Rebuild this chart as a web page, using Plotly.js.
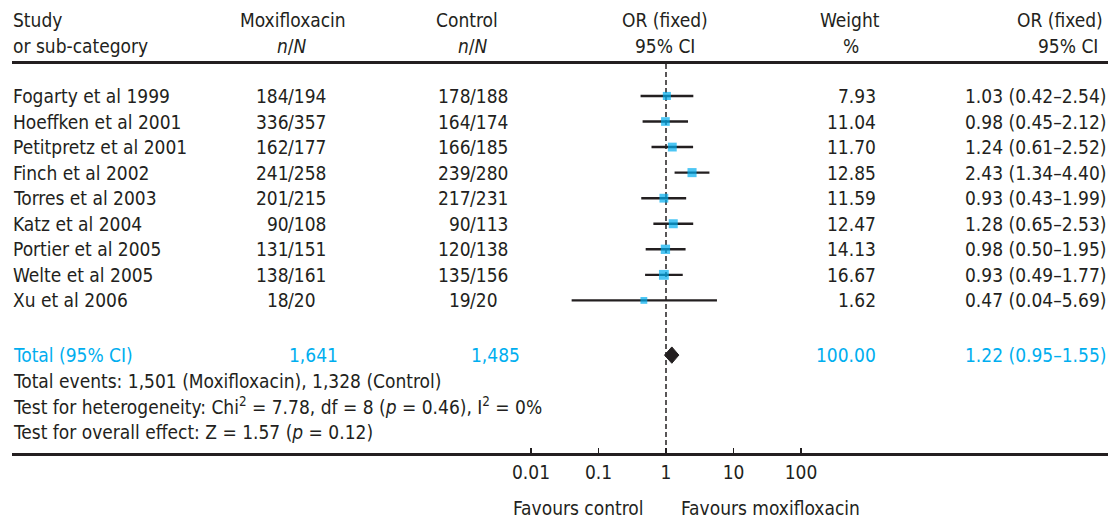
<!DOCTYPE html>
<html>
<head>
<meta charset="utf-8">
<script src="https://cdn.plot.ly/plotly-3.0.1.min.js"></script>
<style>
  html, body { margin: 0; padding: 0; background: #ffffff; }
  #chart { width: 1119px; height: 524px; }
</style>
</head>
<body>
<div id="chart"></div>
<script>
// Moxifloxacin vs control: fixed-effect odds ratios per study
const studies = ["Fogarty et al 1999", "Hoeffken et al 2001", "Petitpretz et al 2001", "Finch et al 2002",
  "Torres et al 2003", "Katz et al 2004", "Portier et al 2005", "Welte et al 2005", "Xu et al 2006"];
const moxiEvents = [184, 336, 162, 241, 201, 90, 131, 138, 18];
const moxiTotal = [194, 357, 177, 258, 215, 108, 151, 161, 20];
const ctrlEvents = [178, 164, 166, 239, 217, 90, 120, 135, 19];
const ctrlTotal = [188, 174, 185, 280, 231, 113, 138, 156, 20];
const weights = [7.93, 11.04, 11.70, 12.85, 11.59, 12.47, 14.13, 16.67, 1.62];
const oddsRatio = [1.03, 0.98, 1.24, 2.43, 0.93, 1.28, 0.98, 0.93, 0.47];
const ciLow = [0.42, 0.45, 0.61, 1.34, 0.43, 0.65, 0.50, 0.49, 0.04];
const ciHigh = [2.54, 2.12, 2.52, 4.40, 1.99, 2.53, 1.95, 1.77, 5.69];

// Pooled estimate
const totalMoxi = "1,641";
const totalCtrl = "1,485";
const totalWeight = 100.00;
const pooledOR = 1.22;
const pooledLow = 0.95;
const pooledHigh = 1.55;

const footnotes = [
  "Total events: 1,501 (Moxifloxacin), 1,328 (Control)",
  "Test for heterogeneity: Chi<sup>2</sup> = 7.78, df = 8 (<i>p</i> = 0.46), I<sup>2</sup> = 0%",
  "Test for overall effect: Z = 1.57 (<i>p</i> = 0.12)"
];

const tickValues = [0.01, 0.1, 1, 10, 100];
const tickLabels = ["0.01", "0.1", "1", "10", "100"];

// ---- styling ----
const INK = "#231f20";
const BLUE = "#00aeef";
const FONT = "DejaVu Sans Condensed, Liberation Sans Narrow, sans-serif";
const FS = 19;
const W = 1119, H = 524;
const M = { l: 12, r: 11, t: 64, b: 71 };
const plotW = W - M.l - M.r;
const plotH = H - M.t - M.b;

// row layout (row index -> vertical position on the y axis)
const ROW_TOP = -1.25, ROW_BOTTOM = 13.97;
const totalRow = 10.14;
const noteRows = [11.15, 12.15, 13.15];

// horizontal pixel anchors for the table columns
const px = p => (p - M.l) / plotW;
const pyPaper = p => (H - M.b - p) / plotH;

const ann = [];
function txt(x, y, text, anchor, opts) {
  ann.push(Object.assign({
    xref: "paper", yref: "y", x: px(x), y: y, text: text,
    xanchor: anchor, yanchor: "middle", showarrow: false, borderpad: 0,
    font: { family: FONT, size: FS, color: INK }
  }, opts || {}));
}
function hdr(x, p, text, anchor) {
  ann.push({
    xref: "paper", yref: "paper", x: px(x), y: pyPaper(p), text: text,
    xanchor: anchor, yanchor: "middle", showarrow: false, borderpad: 0,
    font: { family: FONT, size: FS, color: INK }
  });
}

// headers
hdr(12, 20, "Study", "left");
hdr(12, 46, "or sub-category", "left");
hdr(293, 20, "Moxifloxacin", "center");
hdr(292, 46, "<i>n</i>/<i>N</i>", "center");
hdr(467, 20, "Control", "center");
hdr(473, 46, "<i>n</i>/<i>N</i>", "center");
hdr(665, 20, "OR (fixed)", "center");
hdr(665, 46, "95% CI", "center");
hdr(850, 20, "Weight", "center");
hdr(851, 46, "%", "center");
hdr(1060, 20, "OR (fixed)", "center");
hdr(1068, 46, "95% CI", "center");

// n/N columns are aligned on the slash: numerator ends where "/N" begins
const SLASH_MOXI = 287, SLASH_CTRL = 469;
const fmt = v => v.toFixed(2);
studies.forEach((s, i) => {
  txt(12, i, s, "left");
  txt(SLASH_MOXI + 3, i, String(moxiEvents[i]), "right");
  txt(SLASH_MOXI, i, "/" + moxiTotal[i], "left");
  txt(SLASH_CTRL + 3, i, String(ctrlEvents[i]), "right");
  txt(SLASH_CTRL, i, "/" + ctrlTotal[i], "left");
  txt(877, i, fmt(weights[i]), "right");
  txt(1107, i, fmt(oddsRatio[i]) + " (" + fmt(ciLow[i]) + "\u2013" + fmt(ciHigh[i]) + ")", "right");
});

const blueFont = { font: { family: FONT, size: FS, color: BLUE } };
txt(12, totalRow, "Total (95% CI)", "left", blueFont);
txt(339, totalRow, totalMoxi, "right", blueFont);
txt(521, totalRow, totalCtrl, "right", blueFont);
txt(877, totalRow, fmt(totalWeight), "right", blueFont);
txt(1107, totalRow, fmt(pooledOR) + " (" + fmt(pooledLow) + "\u2013" + fmt(pooledHigh) + ")", "right", blueFont);
footnotes.forEach((t, k) => txt(12, noteRows[k], t, "left"));

// axis captions
hdr(578, 508, "Favours control", "center");
hdr(770, 508, "Favours moxifloxacin", "center");

const rows = studies.map((_, i) => i);
const traces = [
  // line of no effect
  {
    type: "scatter", mode: "lines", x: [1, 1], y: [ROW_TOP, ROW_BOTTOM],
    line: { color: INK, width: 1.5, dash: "5px,3px" }, hoverinfo: "skip", cliponaxis: false
  },
  // study estimates with confidence intervals
  {
    type: "scatter", mode: "markers", x: oddsRatio, y: rows,
    marker: { symbol: "square", color: BLUE, size: weights.map(w => 6.5 + w * 0.2), line: { width: 0 } },
    error_x: {
      type: "data", symmetric: false,
      array: ciHigh.map((h, i) => h - oddsRatio[i]),
      arrayminus: ciLow.map((l, i) => oddsRatio[i] - l),
      color: INK, thickness: 2.4, width: 0
    },
    hoverinfo: "x+y"
  },
  // pooled diamond
  {
    type: "scatter", mode: "lines", fill: "toself",
    x: [pooledLow, pooledOR, pooledHigh, pooledOR, pooledLow],
    y: [totalRow, totalRow - 0.32, totalRow, totalRow + 0.32, totalRow],
    line: { color: INK, width: 1 }, fillcolor: INK, hoverinfo: "skip"
  }
];

const logL = -654 / 67.5, logR = 442 / 67.5;
const layout = {
  width: W, height: H, margin: M,
  paper_bgcolor: "#ffffff", plot_bgcolor: "#ffffff",
  showlegend: false,
  font: { family: FONT, size: FS, color: INK },
  xaxis: {
    type: "log", range: [logL, logR], fixedrange: true,
    showgrid: false, zeroline: false,
    showline: true, linecolor: INK, linewidth: 3, mirror: true,
    ticks: "inside", ticklen: 5, tickwidth: 1.5, tickcolor: INK,
    tickvals: tickValues, ticktext: tickLabels,
    tickfont: { family: FONT, size: FS, color: INK },
    ticklabelstandoff: 0
  },
  yaxis: {
    range: [ROW_BOTTOM, ROW_TOP], fixedrange: true,
    showgrid: false, zeroline: false, showline: false, showticklabels: false, ticks: ""
  },
  annotations: ann
};

Plotly.newPlot("chart", traces, layout, { displayModeBar: false, staticPlot: true });
</script>
</body>
</html>
